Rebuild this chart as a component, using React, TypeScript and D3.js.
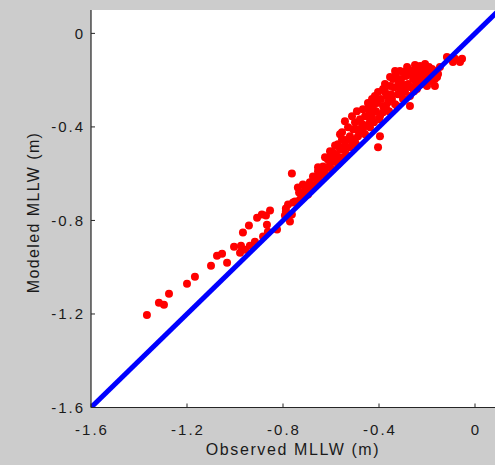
import React from "react";
import * as d3 from "d3";

const observed = [
  -1.367, -1.317, -1.296, -1.275, -1.2, -1.167, -1.1, -1.075, -1.054, -1.033,
  -1.004, -0.979, -0.975, -0.967, -0.942, -0.958, -0.938, -0.917, -0.908, -0.888,
  -0.871, -0.854, -0.867, -0.863, -0.883, -0.825, -0.788, -0.792, -0.758, -0.763,
  -0.771,
  -0.763, -0.738, -0.733, -0.75, -0.788, -0.779, -0.721, -0.708, -0.7, -0.688,
  -0.675, -0.667, -0.654, -0.646, -0.633, -0.625, -0.613, -0.604, -0.592, -0.583,
  -0.575, -0.5625, -0.571, -0.554, -0.554, -0.542, -0.529, -0.521, -0.5125, -0.5,
  -0.4875, -0.492, -0.471, -0.458, -0.4375, -0.4375, -0.425, -0.417, -0.404, -0.404,
  -0.396, -0.396, -0.383, -0.367, -0.354, -0.342, -0.325, -0.3125, -0.3, -0.3,
  -0.283, -0.271, -0.271, -0.258, -0.242, -0.229, -0.208, -0.2, -0.1875, -0.167,
  -0.167, -0.175, -0.158, -0.117, -0.092, -0.083, -0.0625, -0.054,
  -0.729, -0.717, -0.696, -0.679, -0.663, -0.646, -0.638, -0.621, -0.604, -0.596,
  -0.583, -0.571, -0.558, -0.546, -0.5375, -0.529, -0.521, -0.508, -0.5, -0.496,
  -0.479, -0.479, -0.467, -0.458, -0.45, -0.446, -0.4375, -0.429, -0.421, -0.4125,
  -0.408, -0.4, -0.392, -0.383, -0.375, -0.371, -0.3625, -0.358, -0.35, -0.346,
  -0.3375, -0.333, -0.329, -0.321, -0.317, -0.308, -0.304, -0.296, -0.292, -0.2875,
  -0.279, -0.275, -0.267, -0.2625, -0.254, -0.25, -0.246, -0.2375, -0.233, -0.225,
  -0.221, -0.2125, -0.204, -0.196, -0.192, -0.183, -0.179, -0.1625, -0.154, -0.146,
  -0.542, -0.5125, -0.492, -0.467, -0.446, -0.429, -0.375, -0.354, -0.333, -0.3125,
  -0.279, -0.25, -0.208, -0.383, -0.417, -0.5625, -0.583, -0.604, -0.625, -0.654,
];

const modeled = [
  -1.204, -1.152, -1.161, -1.114, -1.071, -1.041, -0.994, -0.951, -0.942, -0.981,
  -0.912, -0.938, -0.908, -0.852, -0.822, -0.925, -0.908, -0.891, -0.788, -0.775,
  -0.779, -0.758, -0.818, -0.848, -0.869, -0.839, -0.762, -0.779, -0.723, -0.775,
  -0.805,
  -0.599, -0.659, -0.68, -0.719, -0.749, -0.732, -0.693, -0.667, -0.655, -0.637,
  -0.612, -0.616, -0.59, -0.607, -0.569, -0.582, -0.539, -0.56, -0.509, -0.547,
  -0.526, -0.496, -0.474, -0.453, -0.423, -0.479, -0.401, -0.44, -0.466, -0.38,
  -0.44, -0.41, -0.388, -0.354, -0.376, -0.337, -0.311, -0.281, -0.251, -0.487,
  -0.44, -0.354, -0.311, -0.268, -0.225, -0.195, -0.311, -0.238, -0.165, -0.281,
  -0.144, -0.268, -0.311, -0.195, -0.238, -0.139, -0.152, -0.225, -0.182, -0.195,
  -0.225, -0.165, -0.187, -0.101, -0.122, -0.109, -0.122, -0.109,
  -0.71, -0.646, -0.689, -0.667, -0.646, -0.633, -0.59, -0.607, -0.53, -0.582,
  -0.517, -0.56, -0.53, -0.496, -0.517, -0.453, -0.487, -0.41, -0.453, -0.474,
  -0.418, -0.367, -0.41, -0.431, -0.393, -0.324, -0.401, -0.358, -0.38, -0.333,
  -0.298, -0.367, -0.281, -0.337, -0.251, -0.315, -0.294, -0.333, -0.26, -0.281,
  -0.23, -0.303, -0.187, -0.26, -0.212, -0.195, -0.26, -0.221, -0.247, -0.182,
  -0.217, -0.174, -0.23, -0.161, -0.247, -0.178, -0.212, -0.161, -0.195, -0.174,
  -0.217, -0.187, -0.17, -0.195, -0.144, -0.204, -0.152, -0.161, -0.174, -0.144,
  -0.376, -0.354, -0.333, -0.324, -0.298, -0.281, -0.217, -0.187, -0.161, -0.161,
  -0.152, -0.135, -0.131, -0.238, -0.268, -0.431, -0.479, -0.504, -0.53, -0.573,
];

const xTicks = [-1.6, -1.2, -0.8, -0.4, 0];
const yTicks = [-1.6, -1.2, -0.8, -0.4, 0];
const domainMin = -1.6;
const domainMax = 0.1;
const xLabel = "Observed MLLW (m)";
const yLabel = "Modeled MLLW (m)";

const W = 495;
const H = 465;
const left = 91;
const right = 499;
const top = 10;
const bottom = 407.5;

export default function App() {
  const x = d3.scaleLinear().domain([domainMin, domainMax]).range([left, right]);
  const y = d3.scaleLinear().domain([domainMin, domainMax]).range([bottom, top]);
  const points = observed.map((o, i) => [o, modeled[i]] as [number, number]);
  const line = d3.line<number>().x((d) => x(d)).y((d) => y(d));
  const font = "'Liberation Sans', Arial, Helvetica, sans-serif";
  const fmt = (v: number) => (v === 0 ? "0" : d3.format(".1f")(v).replace("−", "-"));

  return (
    <svg
      width={W}
      height={H}
      style={{ position: "absolute", left: 0, top: 0, display: "block" }}
    >
      <defs>
        <clipPath id="plot">
          <rect x={left} y={top} width={right - left} height={bottom - top} />
        </clipPath>
      </defs>
      <rect x={0} y={0} width={W} height={H} fill="#cccccc" />
      <rect x={left} y={top} width={right - left} height={bottom - top} fill="#ffffff" />
      <g clipPath="url(#plot)">
        {points.map((p, i) => (
          <circle key={i} cx={x(p[0])} cy={y(p[1])} r={4} fill="#ff0000" />
        ))}
        <path
          d={line([domainMin, domainMax]) || ""}
          stroke="#0000ff"
          strokeWidth={5}
          fill="none"
        />
      </g>
      <line x1={left} x2={left} y1={top} y2={bottom} stroke="#262626" strokeWidth={1.2} />
      <line x1={left} x2={right} y1={bottom} y2={bottom} stroke="#262626" strokeWidth={1.2} />
      {xTicks.map((t) => (
        <g key={"x" + t}>
          <line x1={x(t)} x2={x(t)} y1={bottom} y2={bottom - 4} stroke="#262626" strokeWidth={1} />
          <text
            x={x(t) + 1}
            y={434.5}
            textAnchor="middle"
            fontFamily={font}
            fontSize={15}
            letterSpacing={2}
            fill="#1a1a1a"
          >
            {fmt(t)}
          </text>
        </g>
      ))}
      {yTicks.map((t) => (
        <g key={"y" + t}>
          <line x1={left} x2={left + 4} y1={y(t)} y2={y(t)} stroke="#262626" strokeWidth={1} />
          <text
            x={85}
            y={y(t)}
            dy="0.36em"
            textAnchor="end"
            fontFamily={font}
            fontSize={15}
            letterSpacing={2}
            fill="#1a1a1a"
          >
            {fmt(t)}
          </text>
        </g>
      ))}
      <text
        x={293}
        y={455}
        textAnchor="middle"
        fontFamily={font}
        fontSize={16}
        letterSpacing={1.6}
        fill="#1a1a1a"
      >
        {xLabel}
      </text>
      <text
        transform={`translate(39,${212.5}) rotate(-90)`}
        textAnchor="middle"
        fontFamily={font}
        fontSize={16}
        letterSpacing={1.4}
        fill="#1a1a1a"
      >
        {yLabel}
      </text>
    </svg>
  );
}
